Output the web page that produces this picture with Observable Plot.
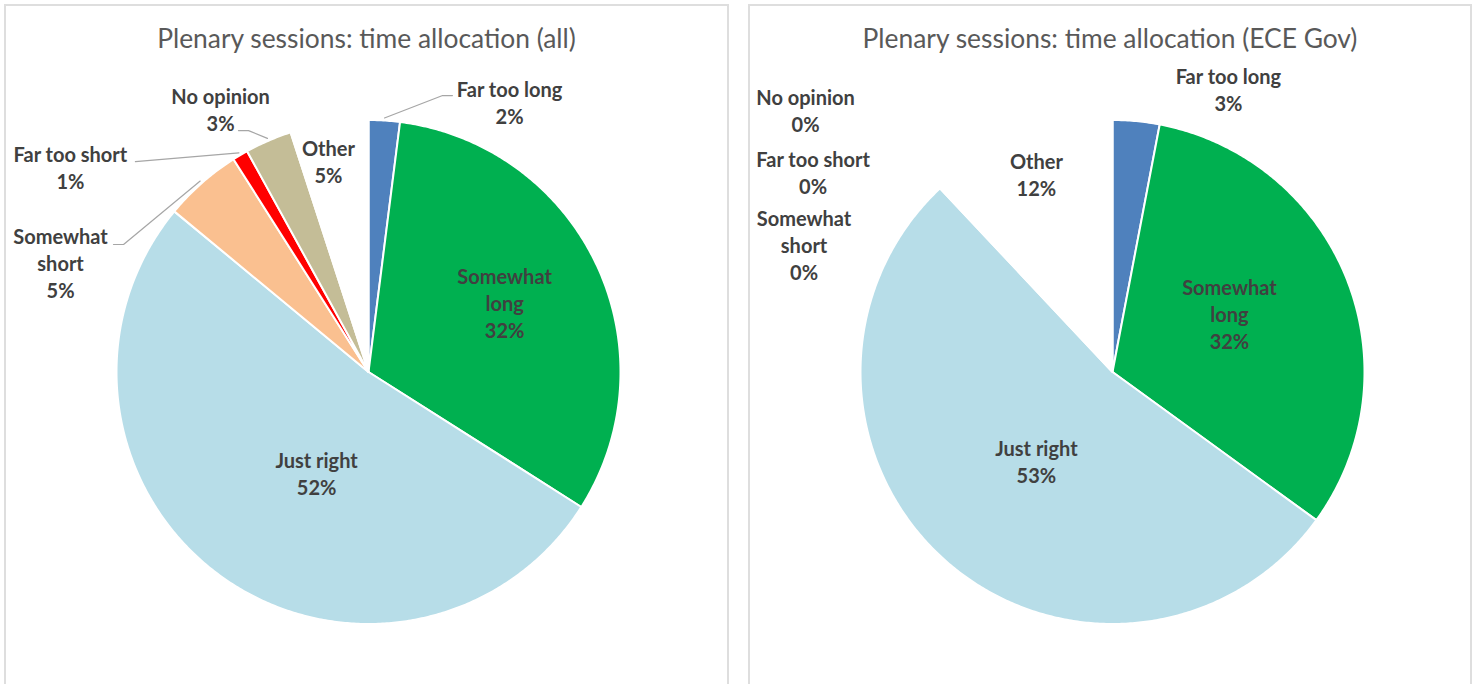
<!DOCTYPE html>
<html>
<head>
<meta charset="utf-8">
<script src="https://cdn.jsdelivr.net/npm/d3@7"></script>
<script src="https://cdn.jsdelivr.net/npm/@observablehq/plot@0.6"></script>
<style>
  html, body { margin: 0; padding: 0; background: #fff; width: 1476px; height: 684px; overflow: hidden; }
  .panel { position: absolute; top: 4px; height: 700px; box-sizing: border-box; border: 2px solid #dedede; background: #fff; }
  .title { position: absolute; left: 0; right: 0; top: 19px; text-align: center; font-family: Lato, "Open Sans", sans-serif; font-size: 26.4px; line-height: 26px; color: #595959; white-space: nowrap; }
  .chart { position: absolute; left: 0; top: 54px; }
</style>
</head>
<body>
<div id="p1" class="panel" style="left:4px;width:725px;"><div class="title" id="t1"></div><div class="chart" id="c1"></div></div>
<div id="p2" class="panel" style="left:748px;width:724px;"><div class="title" id="t2"></div><div class="chart" id="c2"></div></div>
<script>
// ---- data ----
const titles = ["Plenary sessions: time allocation (all)", "Plenary sessions: time allocation (ECE Gov)"];
const categories = ["Far too long", "Somewhat long", "Just right", "Somewhat short", "Far too short", "No opinion", "Other"];
const categoryLabels = ["Far too long", "Somewhat\nlong", "Just right", "Somewhat\nshort", "Far too short", "No opinion", "Other"];
const allValues = [2, 32, 52, 5, 1, 3, 5];
const eceValues = [3, 32, 53, 0, 0, 0, 12];

// ---- styles / layout ----
const sliceColors = ["#4f81bd", "#00b050", "#b7dde8", "#fac090", "#ff0000", "#c4bd97", "#ffffff"];
// label anchors, in pie-radius units relative to pie centre (y up)
const labelPosAll = [[0.560, 1.063], [0.540, 0.268], [-0.206, -0.409], [-1.222, 0.427], [-1.183, 0.808], [-0.587, 1.036], [-0.159, 0.829]];
const labelPosEce = [[0.460, 1.115], [0.464, 0.224], [-0.302, -0.361], [-1.224, 0.498], [-1.188, 0.786], [-1.218, 1.032], [-0.302, 0.780]];
// leader line elbows (from label side), radius units; slice end computed from slice angle
const leadersAll = {
  "Far too long": [[0.333, 1.097], [0.294, 1.097]],
  "Somewhat short": [[-1.012, 0.506], [-0.972, 0.506]],
  "Far too short": [[-0.925, 0.835]],
  "No opinion": [[-0.516, 0.958], [-0.476, 0.958]]
};
const leadersEce = {};

const W = [721, 720], H = 624, CX = 362, CY = 311.5, R = 252;

function drawPie(values, labelPos, leaders, width) {
  const arcs = d3.pie().sort(null).startAngle(0).endAngle(2 * Math.PI)(values);
  const slices = [];
  const leaderPts = [];
  const labels = [];
  arcs.forEach((a, i) => {
    const cat = categories[i];
    labels.push({cat, x: labelPos[i][0], y: labelPos[i][1], text: `${categoryLabels[i]}\n${values[i]}%`});
    if (a.value <= 0) return;
    const step = Math.PI / 360;
    const n = Math.max(2, Math.ceil((a.endAngle - a.startAngle) / step));
    slices.push({cat, x: 0, y: 0});
    for (let k = 0; k <= n; k++) {
      const t = a.startAngle + (a.endAngle - a.startAngle) * k / n;
      slices.push({cat, x: Math.sin(t), y: Math.cos(t)});
    }
    slices.push({cat, x: 0, y: 0});
    if (leaders[cat]) {
      leaders[cat].forEach(p => leaderPts.push({cat, x: p[0], y: p[1]}));
      const m = (a.startAngle + a.endAngle) / 2;
      leaderPts.push({cat, x: 1.01 * Math.sin(m), y: 1.01 * Math.cos(m)});
    }
  });
  return Plot.plot({
    width, height: H, margin: 0,
    style: {background: "transparent", overflow: "visible"},
    x: {domain: [-CX / R, (width - CX) / R], range: [0, width], axis: null},
    y: {domain: [-(H - CY) / R, CY / R], range: [H, 0], axis: null},
    color: {domain: categories, range: sliceColors},
    marks: [
      Plot.line(slices, {x: "x", y: "y", z: "cat", fill: "cat", stroke: "#ffffff", strokeWidth: 2, strokeLinejoin: "round", curve: "linear"}),
      Plot.line(leaderPts, {x: "x", y: "y", z: "cat", stroke: "#a6a6a6", strokeWidth: 1.2, curve: "linear"}),
      Plot.text(labels, {x: "x", y: "y", text: "text", dy: -2, fontFamily: "Lato", fontSize: 20, fontWeight: "bold", fill: "#404040", lineHeight: 1.35, lineAnchor: "middle", textAnchor: "middle"})
    ]
  });
}

document.getElementById("t1").textContent = titles[0];
document.getElementById("t2").textContent = titles[1];
document.getElementById("c1").appendChild(drawPie(allValues, labelPosAll, leadersAll, W[0]));
document.getElementById("c2").appendChild(drawPie(eceValues, labelPosEce, leadersEce, W[1]));
</script>
</body>
</html>
